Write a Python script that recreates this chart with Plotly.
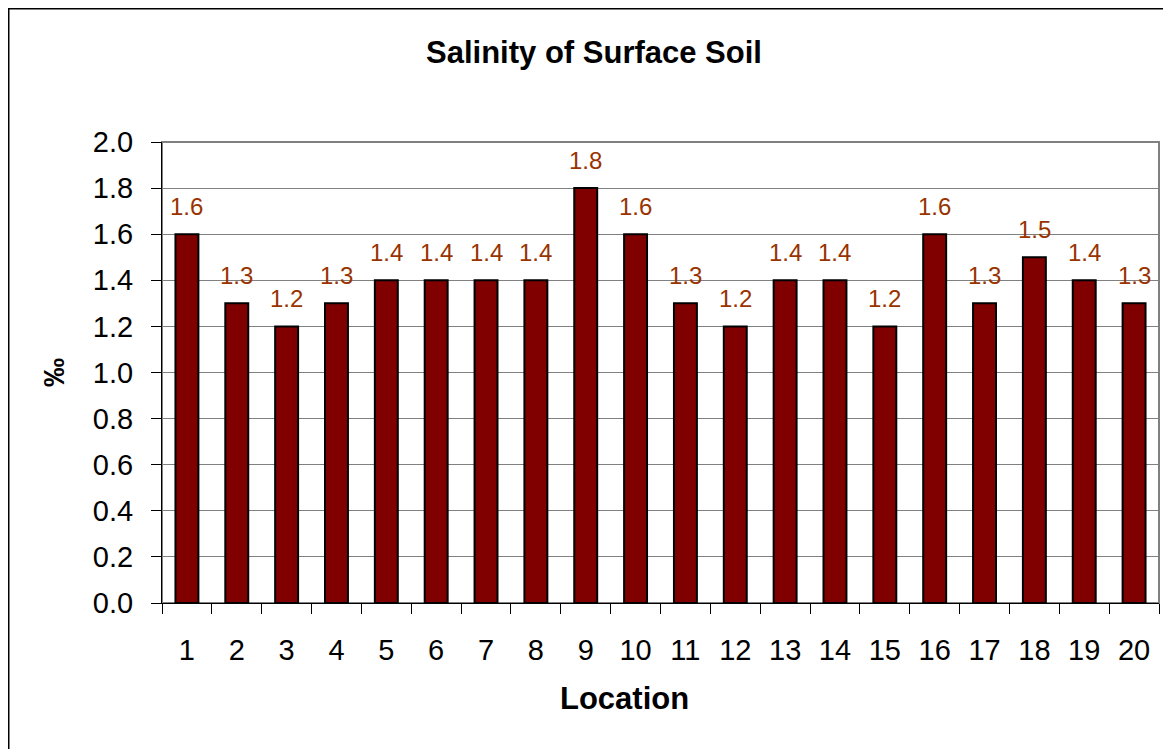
import plotly.graph_objects as go

locations = [str(i) for i in range(1, 21)]
salinity = [1.6, 1.3, 1.2, 1.3, 1.4, 1.4, 1.4, 1.4, 1.8, 1.6,
            1.3, 1.2, 1.4, 1.4, 1.2, 1.6, 1.3, 1.5, 1.4, 1.3]
y_ticks = [0.0, 0.2, 0.4, 0.6, 0.8, 1.0, 1.2, 1.4, 1.6, 1.8, 2.0]
y_tick_labels = ["%.1f" % v for v in y_ticks]

FONT = "Liberation Sans, Arial, sans-serif"
W, H = 1163, 741          # page body has an 8px margin
ML, MR, MT, MB = 154, 12, 134, 146
pw, ph = W - ML - MR, H - MT - MB

fig = go.Figure()
fig.add_trace(go.Bar(
    x=locations, y=salinity,
    marker=dict(color="#800000", line=dict(color="black", width=2)),
    hoverinfo="x+y",
))

annotations = []
for i, v in enumerate(salinity):
    annotations.append(dict(
        x=i, y=v, xref="x", yref="y", text="%.1f" % v, showarrow=False,
        yanchor="bottom", yshift=12,
        font=dict(family=FONT, size=24, color="#993300"),
    ))
# x-axis title (offset from the plot centre, as in the original)
annotations.append(dict(
    text="<b>Location</b>", showarrow=False, xref="paper", yref="paper",
    x=(624 - 8 - ML) / pw, y=(MT + ph - (698 - 8)) / ph,
    xanchor="center", yanchor="middle",
    font=dict(family=FONT, size=31, color="black"),
))

shapes = [
    dict(type="rect", xref="paper", yref="paper", x0=0, x1=1, y0=0, y1=1,
         line=dict(color="#808080", width=2), layer="below"),
    dict(type="rect", xref="paper", yref="paper",
         x0=(0.5 - ML) / pw, x1=(W + 20 - ML) / pw,
         y0=-(H + 20 - (MT + ph)) / ph, y1=(MT + ph - 0.5) / ph,
         line=dict(color="black", width=2)),
]

fig.update_layout(
    width=W, height=H,
    margin=dict(l=ML, r=MR, t=MT, b=MB, pad=0),
    paper_bgcolor="white", plot_bgcolor="white",
    bargap=0.54,
    showlegend=False,
    title=dict(text="<b>Salinity of Surface Soil</b>", x=(594 - 8) / W,
               xanchor="center", y=1 - 44 / H, yanchor="middle", yref="container",
               font=dict(family=FONT, size=31, color="black")),
    annotations=annotations,
    shapes=shapes,
    font=dict(family=FONT, color="black"),
)
fig.update_xaxes(
    type="category", range=[-0.5, len(locations) - 0.5],
    tickson="boundaries", ticks="outside", ticklen=10,
    tickwidth=1, tickcolor="black", showline=True, linecolor="black", linewidth=1,
    showgrid=False, tickfont=dict(family=FONT, size=29, color="black"),
    ticklabelstandoff=21,
)
fig.update_yaxes(
    range=[0, 2.0], tickvals=y_ticks, ticktext=y_tick_labels, ticks="outside", ticklen=10,
    tickwidth=1, tickcolor="black", showline=True, linecolor="black", linewidth=1,
    showgrid=True, gridcolor="#808080", gridwidth=1, zeroline=False,
    tickfont=dict(family=FONT, size=29, color="black"), ticklabelstandoff=12,
    title=dict(text="<b>‰</b>", font=dict(family=FONT, size=29, color="black"), standoff=19),
)

fig.write_html("out.html")
